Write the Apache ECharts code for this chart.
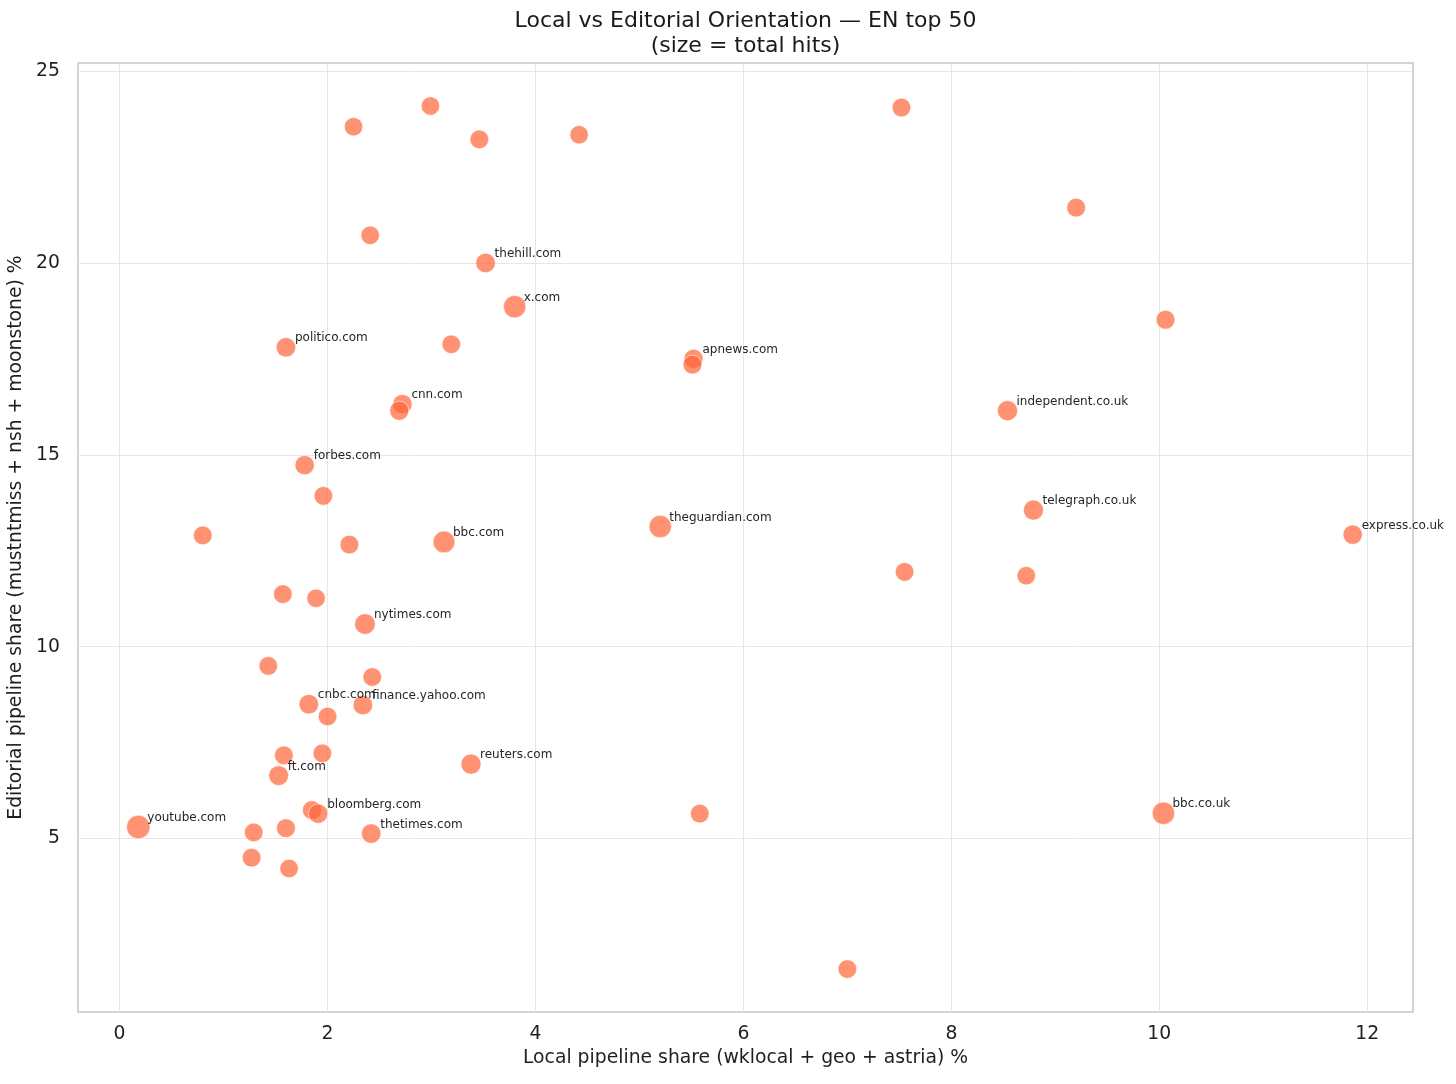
<!DOCTYPE html>
<html>
<head>
<meta charset="utf-8">
<script src="https://cdn.jsdelivr.net/npm/echarts@6/dist/echarts.min.js"></script>
<style>
  html, body { margin: 0; padding: 0; background: #fff; }
  #chart { width: 1456px; height: 1084px; }
</style>
</head>
<body>
<div id="chart"></div>
<script>
// local share %, editorial share %, total hits, label (top 20 only)
var localShare = [
    2.25, 2.99, 3.46, 4.42, 2.41, 3.52, 3.80, 1.60, 3.19, 2.72,
    2.69, 7.52, 9.20, 10.06, 5.52, 5.51, 8.54, 8.79, 11.86, 5.20,
    7.55, 8.72, 1.78, 1.96, 0.80, 2.21, 3.12, 1.57, 1.89, 2.36,
    1.43, 2.43, 1.82, 2.34, 2.00, 1.58, 1.95, 3.38, 1.53, 1.85,
    1.91, 0.18, 1.29, 1.60, 2.42, 1.27, 1.63, 5.58, 10.04, 7.00
];
var editorialShare = [
    23.55, 24.09, 23.22, 23.34, 20.72, 20.00, 18.86, 17.80, 17.88, 16.32,
    16.15, 24.05, 21.44, 18.52, 17.50, 17.35, 16.15, 13.56, 12.92, 13.13,
    11.95, 11.85, 14.73, 13.93, 12.90, 12.66, 12.73, 11.37, 11.26, 10.59,
    9.50, 9.21, 8.50, 8.48, 8.18, 7.17, 7.22, 6.94, 6.64, 5.74,
    5.65, 5.30, 5.16, 5.27, 5.13, 4.50, 4.22, 5.65, 5.66, 1.60
];
var totalHits = [
    500, 500, 600, 500, 500, 1000, 2400, 950, 550, 900,
    800, 600, 650, 650, 800, 700, 1250, 1250, 900, 2400,
    550, 500, 850, 550, 600, 600, 2100, 550, 500, 1500,
    550, 550, 1000, 950, 550, 600, 550, 1250, 1100, 700,
    900, 3000, 550, 650, 950, 600, 500, 600, 2400, 550
];
var siteLabels = [
    '', '', '', '', '', 'thehill.com', 'x.com', 'politico.com', '', 'cnn.com',
    '', '', '', '', 'apnews.com', '', 'independent.co.uk', 'telegraph.co.uk', 'express.co.uk', 'theguardian.com',
    '', '', 'forbes.com', '', '', '', 'bbc.com', '', '', 'nytimes.com',
    '', '', 'cnbc.com', 'finance.yahoo.com', '', '', '', 'reuters.com', 'ft.com', '',
    'bloomberg.com', 'youtube.com', '', '', 'thetimes.com', '', '', '', 'bbc.co.uk', ''
];
var xTicks = [0, 2, 4, 6, 8, 10, 12];
var yTicks = [5, 10, 15, 20, 25];

var hMin = Math.min.apply(null, totalHits);
var hMax = Math.max.apply(null, totalHits);
function hitsToSize(h) {
    // area grows with hits, like a matplotlib size scale
    var t = (h - hMin) / (hMax - hMin);
    return Math.sqrt(18.5 * 18.5 + (23.5 * 23.5 - 18.5 * 18.5) * t);
}

var points = [];
for (var i = 0; i < localShare.length; i++) {
    points.push({
        name: siteLabels[i],
        value: [localShare[i], editorialShare[i], totalHits[i]]
    });
}

var font = 'DejaVu Sans';
var chart = echarts.init(document.getElementById('chart'));
chart.setOption({
    backgroundColor: '#ffffff',
    animation: false,
    title: {
        text: 'Local vs Editorial Orientation \u2014 EN top 50\n(size = total hits)',
        left: 745.5,
        top: 9,
        padding: 0,
        textAlign: 'center',
        textStyle: {
            fontFamily: font, fontSize: 22, fontWeight: 'normal',
            color: '#1a1a1a', lineHeight: 25
        }
    },
    grid: {
        left: 78, top: 63, width: 1335, height: 949,
        containLabel: false,
        outerBoundsMode: 'none',
        show: true,
        borderColor: '#c6c6c6',
        borderWidth: 1.5,
        backgroundColor: 'transparent'
    },
    xAxis: {
        type: 'value',
        min: -0.4,
        max: 12.44,
        name: 'Local pipeline share (wklocal + geo + astria) %',
        nameLocation: 'middle',
        nameGap: 33,
        nameTextStyle: { fontFamily: font, fontSize: 18.8, color: '#1f1f1f' },
        axisLine: { show: false },
        axisTick: { show: false, customValues: xTicks },
        axisLabel: {
            customValues: xTicks,
            margin: 13,
            fontFamily: font, fontSize: 18.8, color: '#1f1f1f'
        },
        splitLine: { show: true, lineStyle: { color: '#e6e6e6', width: 1 } }
    },
    yAxis: {
        type: 'value',
        min: 0.48,
        max: 25.21,
        name: 'Editorial pipeline share (mustntmiss + nsh + moonstone) %',
        nameLocation: 'middle',
        nameGap: 43,
        nameTextStyle: { fontFamily: font, fontSize: 18.8, color: '#1f1f1f' },
        axisLine: { show: false },
        axisTick: { show: false, customValues: yTicks },
        axisLabel: {
            customValues: yTicks,
            margin: 18,
            fontFamily: font, fontSize: 18.8, color: '#1f1f1f'
        },
        splitLine: { show: true, lineStyle: { color: '#e6e6e6', width: 1 } }
    },
    series: [{
        type: 'scatter',
        data: points,
        symbolSize: function (val) { return hitsToSize(val[2]); },
        itemStyle: {
            color: '#ff6436',
            opacity: 0.7,
            borderColor: '#ffffff',
            borderWidth: 0.8
        },
        label: {
            show: true,
            position: 'inside',
            align: 'left',
            verticalAlign: 'middle',
            offset: [9, -9],
            formatter: function (p) { return p.name; },
            fontFamily: font,
            fontSize: 12,
            color: '#262626',
            opacity: 1
        },
        emphasis: { disabled: true }
    }]
});
</script>
</body>
</html>
